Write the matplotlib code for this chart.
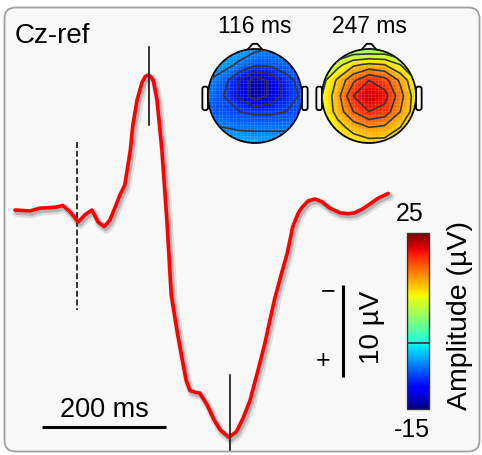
import numpy as np
import matplotlib
matplotlib.use('Agg')
import matplotlib.pyplot as plt
from matplotlib.patches import FancyBboxPatch, Circle, Polygon
import matplotlib.patheffects as pe
from matplotlib.transforms import IdentityTransform, Affine2D
import matplotlib.colors as mcolors
import matplotlib.colorbar as mcolorbar

plt.rcParams['font.family'] = ['Liberation Sans', 'DejaVu Sans']
plt.rcParams['lines.scale_dashes'] = False

# ---------------- data ----------------
times_ms = [-100, -76, -60, -35, -23, -11, 2, 13, 24, 34, 44, 53, 65, 69, 77, 86, 90, 97,
            105, 110, 115, 119, 123, 129, 137, 145, 152, 161, 169, 176, 182, 190,
            198, 210, 221, 231, 245, 257, 268, 279, 292, 303, 311, 319, 329, 339,
            348, 357, 363, 373, 384, 395, 408, 424, 437, 448, 460, 469, 486, 502]
amp_uv = [0.0, 0.1, -0.2, -0.3, -0.5, 0.2, 1.3, 0.5, 0.0, 1.3, 1.8, 1.1, -0.9, -1.6, -2.7, -6.5, -9.2, -12.0,
          -13.9, -14.5, -14.7, -14.5, -14.1, -12.0, -6.5, 1.1, 9.2, 13.0, 16.0, 18.5, 19.6, 19.8,
          19.9, 21.2, 22.8, 23.9, 24.7, 24.1, 22.6, 20.7, 17.4, 14.5, 12.0, 9.6, 7.1, 4.7,
          1.8, 0.3, -0.3, -1.0, -1.2, -0.9, -0.2, 0.3, 0.4, 0.3, -0.1, -0.5, -1.3, -1.8]

peak_ms = [116, 247]
peak_labels = ['116 ms', '247 ms']
channel_label = 'Cz-ref'
cbar_min, cbar_max = -15, 25
time_bar_ms = 200
amp_bar_uv = 10

# topographies on a coarse 7x7 grid (rows top -> bottom, cols left -> right)
topo_116 = [
    [-2.0, -2.5, -3.5, -4.5, -5.0, -5.0, -5.0],
    [-3.0, -4.0, -5.5, -7.0, -7.0, -6.0, -6.0],
    [-5.0, -6.5, -10.0, -14.0, -12.0, -8.5, -6.5],
    [-5.5, -7.5, -10.5, -14.0, -12.0, -9.0, -7.0],
    [-6.5, -7.0, -7.5, -8.0, -8.0, -7.5, -7.0],
    [-4.5, -5.0, -5.5, -5.5, -5.5, -5.5, -5.0],
    [-2.5, -2.5, -3.0, -3.5, -3.5, -3.5, -3.5],
]
topo_247 = [
    [3.0, 4.0, 5.0, 5.0, 5.0, 4.0, 3.0],
    [7.0, 9.0, 12.0, 13.0, 12.5, 10.0, 8.0],
    [9.0, 13.0, 17.0, 20.0, 18.5, 14.5, 10.0],
    [10.0, 14.0, 20.0, 22.5, 21.0, 16.0, 11.0],
    [10.0, 13.5, 17.5, 20.0, 19.0, 15.0, 11.0],
    [9.0, 11.5, 13.5, 15.0, 14.5, 12.5, 10.0],
    [9.0, 10.0, 11.0, 11.5, 11.5, 10.5, 9.0],
]

# ---------------- figure ----------------
W, H, DPI = 482, 455, 100
fig = plt.figure(figsize=(W / DPI, H / DPI), dpi=DPI)
fig.patch.set_facecolor('white')
T = Affine2D().scale(1, -1).translate(0, H)  # image-pixel coords (y down)

box = FancyBboxPatch((4.5, 3.5), 475, 444, boxstyle='round,pad=0,rounding_size=11',
                     fc='#f8f8f8', ec='#a0a0a0', lw=1.3, transform=IdentityTransform(), zorder=0)
fig.add_artist(box)

ax = fig.add_axes([0, 0, 1, 1])
ax.patch.set_alpha(0)
ax.set_xlim(-124.2, 653.2)
ax.set_ylim(26.63, -22.83)   # negative up
ax.axis('off')

ax.plot(times_ms, amp_uv, color='#ff0000', lw=2.6, solid_joinstyle='round',
        solid_capstyle='round', zorder=5,
        path_effects=[pe.SimpleLineShadow(offset=(1.5, -2.2), shadow_color='black', alpha=0.10, linewidth=6),
                      pe.SimpleLineShadow(offset=(1.2, -1.8), shadow_color='black', alpha=0.18, linewidth=3.5),
                      pe.Normal()])

# peak markers
ax.plot([peak_ms[0]] * 2, [-17.7, -9.2], color='black', lw=1.1, zorder=6)
ax.plot([peak_ms[1]] * 2, [17.9, 26.1], color='black', lw=1.1, zorder=6)
# stimulus onset
ax.plot([0, 0], [-7.4, 10.9], color='black', lw=1.1, dashes=(4.3, 2.0), zorder=4)

# time scale bar
ax.plot([-56.5, -56.5 + time_bar_ms], [23.6, 23.6], color='black', lw=2.2, solid_capstyle='butt')
fig.text(104, 417, f'{time_bar_ms} ms', transform=T, ha='center', va='baseline', fontsize=19.5)

# amplitude scale bar
ax.plot([429, 429], [8.15, 8.15 + amp_bar_uv], color='black', lw=2.2, solid_capstyle='butt')
fig.text(372, 327, f'{amp_bar_uv} µV', transform=T, ha='center', va='center', rotation=90, fontsize=20)
fig.text(328, 291, '−', transform=T, ha='center', va='center', fontsize=18)
fig.text(323, 361, '+', transform=T, ha='center', va='center', fontsize=18)

fig.text(15, 43, channel_label, transform=T, ha='left', va='baseline', fontsize=20)

# colorbar
cax = fig.add_axes([407 / W, (H - 409) / H, 22 / W, 176 / H])
norm = mcolors.Normalize(cbar_min, cbar_max)
cb = mcolorbar.ColorbarBase(cax, cmap='jet', norm=norm, orientation='vertical')
cb.set_ticks([])
cb.outline.set_edgecolor('#333333')
cb.outline.set_linewidth(1.0)
cax.axhline(0, color='#333333', lw=1.2)
fig.text(410, 214, str(cbar_max), transform=T, ha='center', va='center', fontsize=18)
fig.text(412, 430, str(cbar_min), transform=T, ha='center', va='center', fontsize=18)
fig.text(460, 316, 'Amplitude (µV)', transform=T, ha='center', va='center', rotation=90, fontsize=20.5)

# topomaps
def topomap(cx, cy, r, grid, label):
    h = 1.3 * r
    tax = fig.add_axes([(cx - h) / W, (H - cy - h) / H, 2 * h / W, 2 * h / H])
    tax.set_xlim(-1.3, 1.3)
    tax.set_ylim(-1.3, 1.3)
    tax.set_aspect('equal')
    tax.axis('off')
    tax.patch.set_alpha(0)
    z = np.array(grid)[::-1]
    u = np.linspace(-1, 1, z.shape[1])
    v = np.linspace(-1, 1, z.shape[0])
    U, V = np.meshgrid(u, v)
    clip = Circle((0, 0), 1.0, transform=tax.transData)
    cf = tax.contourf(U, V, z, levels=np.linspace(cbar_min - 5, cbar_max + 5, 121),
                      cmap='jet', norm=norm)
    cf.set_clip_path(clip)
    # faint mesh texture
    for g in np.arange(-1, 1.001, 0.075):
        l1, = tax.plot([g, g], [-1, 1], color='white', lw=0.4, alpha=0.18)
        l2, = tax.plot([-1, 1], [g, g], color='white', lw=0.4, alpha=0.18)
        l1.set_clip_path(clip)
        l2.set_clip_path(clip)
    cl = tax.contour(U, V, z, levels=np.arange(-15, 25.1, 2.5), colors='#363636',
                     linewidths=1.2, linestyles='solid')
    cl.set_clip_path(clip)
    tax.add_patch(Circle((0, 0), 1.0, fill=False, ec='black', lw=1.3))
    tax.add_patch(Polygon([[-0.16, 0.985], [-0.05, 1.11], [0.05, 1.11], [0.16, 0.985]],
                          closed=False, fill=False, ec='black', lw=1.3))
    for s in (-1, 1):
        tax.add_patch(FancyBboxPatch((s * 1.0 - (0.12 if s < 0 else 0), -0.3), 0.12, 0.5,
                                     boxstyle='round,pad=0,rounding_size=0.05',
                                     fill=False, ec='black', lw=1.3))
    fig.text(cx, 33, label, transform=T, ha='center', va='baseline', fontsize=16.5)

topomap(255, 96, 47, topo_116, peak_labels[0])
topomap(369, 96, 47, topo_247, peak_labels[1])

fig.savefig('out.png', dpi=DPI)
